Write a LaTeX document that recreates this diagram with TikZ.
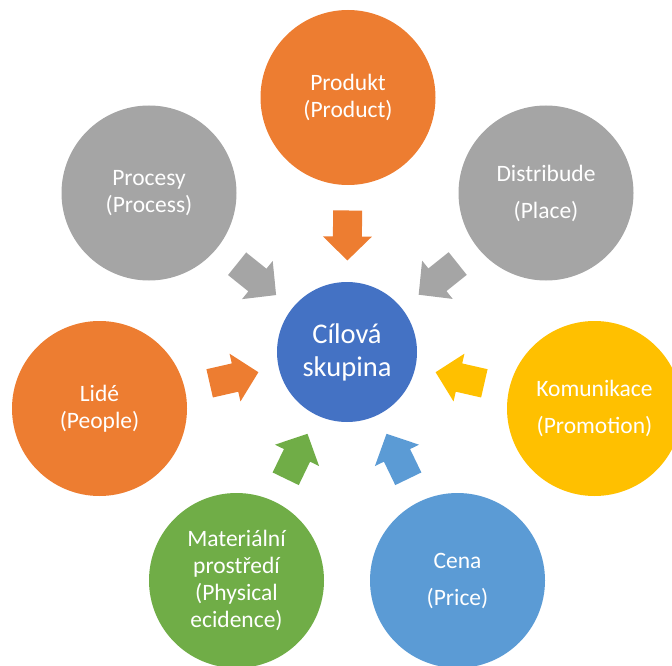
\documentclass[tikz,border=0pt]{standalone}
\usepackage{fontspec}
\setmainfont{Carlito}
\usetikzlibrary{calc}
\definecolor{corange}{HTML}{ED7D31}
\definecolor{cgray}{HTML}{A5A5A5}
\definecolor{cblue}{HTML}{4472C4}
\definecolor{cyellow}{HTML}{FFC000}
\definecolor{cgreen}{HTML}{70AD47}
\definecolor{clblue}{HTML}{5B9BD5}
\begin{document}
\begin{tikzpicture}[x=1pt,y=-1pt,
  bub/.style={circle, minimum size=175pt, inner sep=0pt, outer sep=0pt,
    text=white, align=center, font=\fontsize{23.5}{27}\selectfont},
  hub/.style={circle, minimum size=140pt, inner sep=0pt, outer sep=0pt,
    text=white, align=center, font=\fontsize{28.5}{33}\selectfont}]
\useasboundingbox (0,0) rectangle (672,666);
\node[hub, fill=cblue] (ctr) at (347,352) {Cílová\\skupina};
\node[bub, fill=corange] (prod) at (348,97.5) {Produkt\\(Product)};
\node[bub, fill=cgray] (proc) at (149,193) {Procesy\\(Process)};
\node[bub, fill=cgray] (dist) at (546,193) {Distribude\\[10pt](Place)};
\node[bub, fill=corange] (lide) at (99.5,408.5) {Lidé\\(People)};
\node[bub, fill=cyellow] (komu) at (594.5,408.5) {Komunikace\\[10pt](Promotion)};
\node[bub, fill=cgreen] (mat) at (236.5,580.5) {Materiální\\prostředí\\(Physical\\ecidence)};
\node[bub, fill=clblue] (cena) at (457.5,580.5) {Cena\\[10pt](Price)};
\foreach \src/\col in {prod/corange, proc/cgray, dist/cgray, lide/corange,
    komu/cyellow, mat/cgreen, cena/clblue}{
  \pgfmathanglebetweenpoints{\pgfpointanchor{\src}{center}}{\pgfpointanchor{ctr}{center}}
  \let\arrang\pgfmathresult
  \begin{scope}[shift={($(\src)!138pt!(ctr)$)}, rotate=\arrang]
    \fill[\col] (-25pt,-14.5pt) -- (1pt,-14.5pt) -- (1pt,-24.5pt) -- (25pt,0pt)
      -- (1pt,24.5pt) -- (1pt,14.5pt) -- (-25pt,14.5pt) -- cycle;
  \end{scope}
}
\end{tikzpicture}
\end{document}
